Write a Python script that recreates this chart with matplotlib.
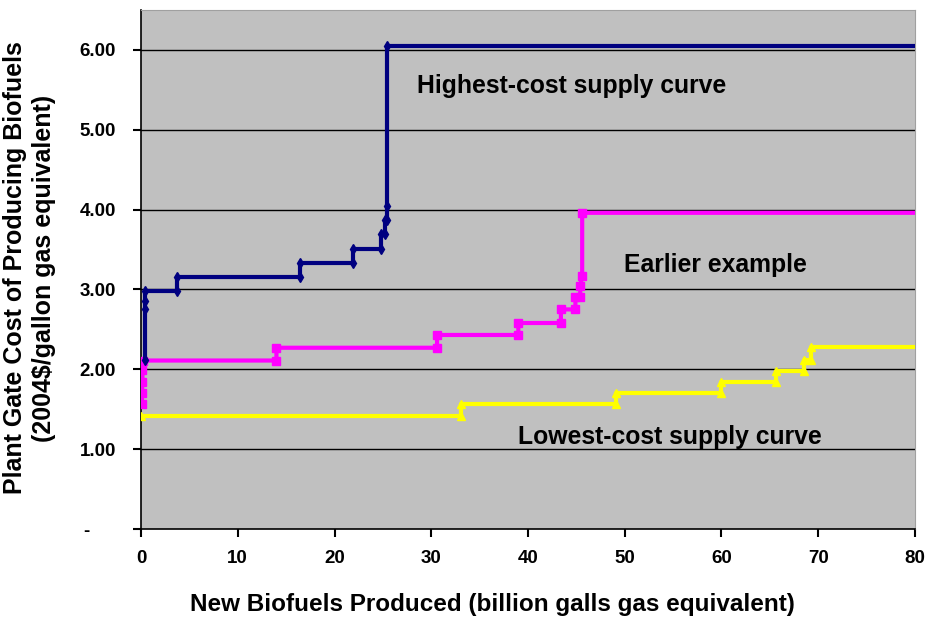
import matplotlib
matplotlib.use("Agg")
import matplotlib.pyplot as plt

# step curves, vertices (billion gal, $/gal)
high_x = [0.4, 0.4, 0.4, 0.4, 3.7, 3.7, 16.4, 16.4, 21.9, 21.9, 24.8, 24.8,
          25.2, 25.2, 25.4, 25.4, 25.4, 80]
high_y = [2.12, 2.75, 2.86, 2.98, 2.98, 3.15, 3.15, 3.33, 3.33, 3.51, 3.51, 3.70,
          3.70, 3.87, 3.87, 4.04, 6.05, 6.05]

earlier_x = [0.1, 0.1, 0.15, 0.15, 0.2, 14.0, 14.0, 30.6, 30.6, 39.0, 39.0, 43.4,
             43.4, 44.9, 44.9, 45.4, 45.4, 45.6, 45.6, 80]
earlier_y = [1.57, 1.70, 1.84, 1.99, 2.11, 2.11, 2.27, 2.27, 2.43, 2.43, 2.58, 2.58,
             2.75, 2.75, 2.90, 2.90, 3.04, 3.17, 3.96, 3.96]

low_x = [0, 33.1, 33.1, 49.1, 49.1, 60.0, 60.0, 65.6, 65.6, 68.5, 68.5, 69.3, 69.3, 80]
low_y = [1.42, 1.42, 1.56, 1.56, 1.70, 1.70, 1.84, 1.84, 1.98, 1.98, 2.12, 2.12, 2.28, 2.28]

xticks = [0, 10, 20, 30, 40, 50, 60, 70, 80]
yticks = [0, 1, 2, 3, 4, 5, 6]
ytick_labels = ["-     ", "1.00", "2.00", "3.00", "4.00", "5.00", "6.00"]

plt.rcParams['font.family'] = ['Liberation Sans', 'DejaVu Sans']

fig = plt.figure(figsize=(9.27, 6.17), dpi=100)
ax = fig.add_axes([141/927, 88/617, 774/927, 519/617])
ax.set_facecolor('#C0C0C0')

# no marker on the last point, it sits on the right edge
ax.plot(low_x, low_y, color='#FFFF00', lw=3, marker='^', ms=6,
        markevery=list(range(len(low_x) - 1)), zorder=3)
ax.plot(earlier_x, earlier_y, color='#FF00FF', lw=3, marker='s', ms=6,
        markevery=list(range(len(earlier_x) - 1)), zorder=4)
ax.plot(high_x, high_y, color='#000080', lw=3, marker='d', ms=5,
        markevery=list(range(len(high_x) - 1)), zorder=5)

ax.set_xlim(0, 80)
ax.set_ylim(0, 6.5)
ax.set_xticks(xticks)
ax.set_yticks(yticks)
ax.set_yticklabels(ytick_labels)
for y in yticks[1:]:
    ax.axhline(y, color='black', lw=1, zorder=1)

ax.tick_params(axis='both', direction='out', length=6, width=1.5, labelsize=13.5)
ax.tick_params(axis='x', pad=9)
ax.tick_params(axis='y', pad=12)
for lab in ax.get_xticklabels() + ax.get_yticklabels():
    lab.set_fontweight('bold')

ax.spines['left'].set_color('black')
ax.spines['bottom'].set_color('black')
ax.spines['left'].set_linewidth(1.2)
ax.spines['bottom'].set_linewidth(1.2)
ax.spines['top'].set_color('#A0A0A0')
ax.spines['right'].set_color('#A0A0A0')

ax.text(44.5, 5.55, "Highest-cost supply curve", fontsize=17.8, fontweight='bold',
        ha='center', va='center')
ax.text(59.4, 3.31, "Earlier example", fontsize=17.8, fontweight='bold',
        ha='center', va='center')
ax.text(54.7, 1.15, "Lowest-cost supply curve", fontsize=17.8, fontweight='bold',
        ha='center', va='center')

fig.text(492/927, 1 - 604/617, "New Biofuels Produced (billion galls gas equivalent)",
         fontsize=17.5, fontweight='bold', ha='center', va='center')
fig.text(15/927, 1 - 268/617, "Plant Gate Cost of Producing Biofuels",
         fontsize=18, fontweight='bold', ha='center', va='center', rotation=90)
fig.text(44/927, 1 - 268/617, "(2004\\$/gallon gas equivalent)",
         fontsize=18, fontweight='bold', ha='center', va='center', rotation=90)

fig.savefig("out.png", dpi=100)
